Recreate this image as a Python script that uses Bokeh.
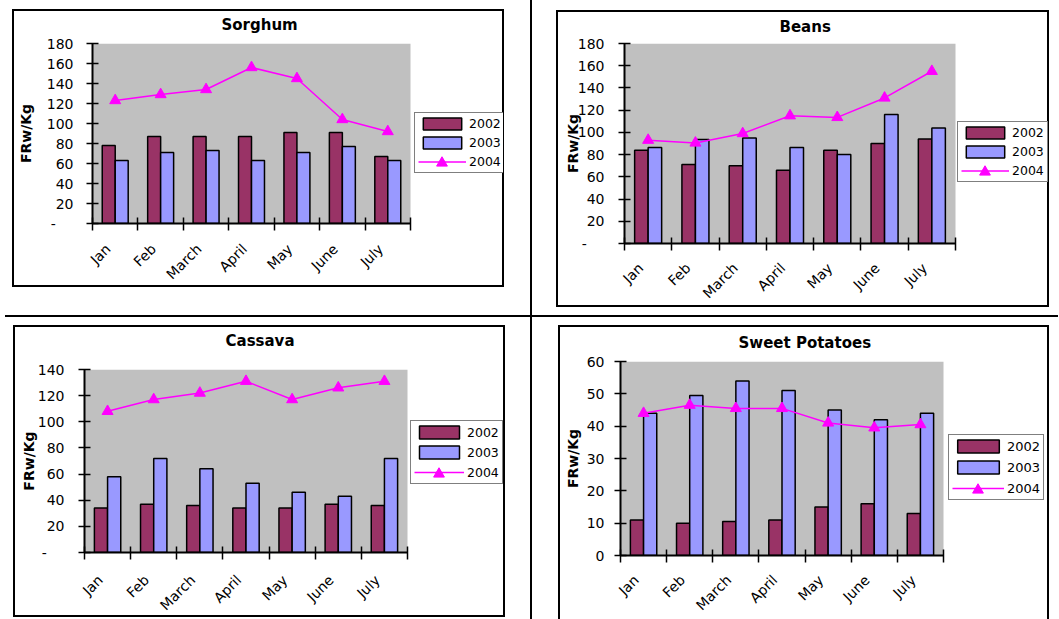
import numpy as np
from bokeh.plotting import figure
from bokeh.models import (ColumnDataSource, FixedTicker, Legend, LegendItem, Range1d, Div,
                          BoxAnnotation)
from bokeh.layouts import row, column
from bokeh.embed import file_html
from bokeh.resources import INLINE

# ---------------- data ----------------
months = ["Jan", "Feb", "March", "April", "May", "June", "July"]
series_names = ["2002", "2003", "2004"]

sorghum_2002 = [78, 87, 87, 87, 91, 91, 67]
sorghum_2003 = [63, 71, 73, 63, 71, 77, 63]
sorghum_2004 = [123, 129, 134, 156, 145, 104, 92]

beans_2002 = [84, 71, 70, 66, 84, 90, 94]
beans_2003 = [86.5, 93.5, 95, 86.5, 80, 116, 104]
beans_2004 = [93, 90.5, 99, 115, 113.5, 131, 155]

cassava_2002 = [34, 37, 36, 34, 34, 37, 36]
cassava_2003 = [58, 72, 64, 53, 46, 43, 72]
cassava_2004 = [108, 117, 122, 131, 117, 126, 131]

sweet_2002 = [11, 10, 10.5, 11, 15, 16, 13]
sweet_2003 = [44, 49.5, 54, 51, 45, 42, 44]
sweet_2004 = [44, 46.5, 45.5, 45.5, 41, 39.5, 40.5]

y_label = "FRw/Kg"

# ---------------- style ----------------
C2002 = "#993366"
C2003 = "#9999FF"
C2004 = "#FF00FF"
PLOT_BG = "#C0C0C0"
FONT = "DejaVu Sans"
BAR_W = 2.0 / 7.0
LAB_SHIFT = 0.15625
NBSP = "\u00a0"
LEG_PAD = 3
MARK_BOX = 27


def box_style(left, w, top, h, bottom=True):
    g = "linear-gradient(#000,#000)"
    layers = [
        f"{g} {left}px {top}px / 2px {h}px no-repeat",
        f"{g} {left + w - 2}px {top}px / 2px {h}px no-repeat",
        f"{g} {left}px {top}px / {w}px 2px no-repeat",
    ]
    if bottom:
        layers.append(f"{g} {left}px {top + h - 2}px / {w}px 2px no-repeat")
    return {"background": ", ".join(layers)}


def make_chart(title, v2002, v2003, v2004, ymax, ystep, W, H, ml, gray_w, mt, mb, margin,
               box_left, box_w, box_top, box_h, leg_loc, leg_font, leg_lh, leg_sp, leg_gw,
               title_offset, title_standoff, ytick_standoff, ylab_standoff, xlab_standoff,
               zero_dash, bottom_border=True):
    n = len(months)
    mr = 1
    frame_w = W - ml - mr
    x_end = n * frame_w / gray_w          # frame also hosts the legend, right of the plot area
    xs = np.arange(n) + 0.5
    src = ColumnDataSource(dict(xa=xs - BAR_W / 2, xb=xs + BAR_W / 2, xc=xs,
                                a=v2002, b=v2003, c=v2004))
    p = figure(width=W, height=H, x_range=Range1d(0, x_end), y_range=Range1d(0, ymax),
               output_backend="svg", toolbar_location=None, title=title,
               min_border_left=ml, min_border_right=mr, min_border_top=mt, min_border_bottom=mb)
    p.margin = margin
    p.styles = box_style(box_left, box_w, box_top, box_h, bottom_border)
    p.border_fill_color = None
    p.background_fill_color = None
    p.outline_line_color = None
    p.xgrid.grid_line_color = None
    p.ygrid.grid_line_color = None

    # grey plot area (only over the category span)
    p.add_layout(BoxAnnotation(left=0, right=n, bottom=0, top=ymax, fill_color=PLOT_BG,
                               fill_alpha=1.0, line_color=None, level="underlay"))

    ra = p.vbar(x="xa", top="a", width=BAR_W, bottom=0, source=src,
                fill_color=C2002, line_color="black", line_width=1.5)
    rb = p.vbar(x="xb", top="b", width=BAR_W, bottom=0, source=src,
                fill_color=C2003, line_color="black", line_width=1.5)
    rl = p.line(x="xc", y="c", source=src, line_color=C2004, line_width=1.5)
    rs = p.scatter(x="xc", y="c", source=src, marker="triangle", size=11,
                   fill_color=C2004, line_color=C2004)

    # title
    p.title.text_font = FONT
    p.title.text_font_style = "bold"
    p.title.text_font_size = "15px"
    p.title.text_color = "black"
    p.title.align = "left"
    p.title.offset = title_offset
    p.title.standoff = title_standoff

    # x axis
    xa = p.xaxis[0]
    label_pos = [float(x - LAB_SHIFT) for x in xs]
    xa.ticker = FixedTicker(ticks=label_pos, minor_ticks=list(range(n + 1)))
    xa.bounds = (0, n)
    xa.major_label_overrides = {lp: m for lp, m in zip(label_pos, months)}
    xa.major_label_orientation = np.pi / 4
    xa.major_label_text_font = FONT
    xa.major_label_text_font_size = "14px"
    xa.major_label_text_color = "black"
    xa.major_label_standoff = xlab_standoff
    xa.major_tick_in = 0
    xa.major_tick_out = 0
    xa.minor_tick_in = 6
    xa.minor_tick_out = 7
    xa.minor_tick_line_color = "black"
    xa.minor_tick_line_width = 1.5
    xa.axis_line_color = "black"
    xa.axis_line_width = 2

    # y axis
    ya = p.yaxis[0]
    ya.ticker = FixedTicker(ticks=list(range(0, ymax + 1, ystep)), minor_ticks=[])
    if zero_dash:
        ya.major_label_overrides = {0: "-" + NBSP * 4}
    ya.major_label_text_font = FONT
    ya.major_label_text_font_size = "14px"
    ya.major_label_text_color = "black"
    ya.major_label_standoff = ytick_standoff
    ya.major_tick_in = 6
    ya.major_tick_out = 6
    ya.major_tick_line_color = "black"
    ya.major_tick_line_width = 1.5
    ya.minor_tick_line_color = None
    ya.axis_line_color = "black"
    ya.axis_line_width = 2
    ya.axis_label = y_label
    ya.axis_label_text_font = FONT
    ya.axis_label_text_font_style = "bold"
    ya.axis_label_text_font_size = "14px"
    ya.axis_label_text_color = "black"
    ya.axis_label_standoff = ylab_standoff

    # main legend box
    legend = Legend(items=[
        LegendItem(label=series_names[0], renderers=[ra]),
        LegendItem(label=series_names[1], renderers=[rb]),
        LegendItem(label=series_names[2], renderers=[rl]),
    ], location=leg_loc)
    legend.border_line_color = "black"
    legend.border_line_width = 1.5
    legend.background_fill_color = "white"
    legend.background_fill_alpha = 1.0
    legend.label_text_font = FONT
    legend.label_text_font_size = leg_font
    legend.label_text_color = "black"
    legend.label_height = leg_lh
    legend.glyph_height = leg_lh
    legend.glyph_width = leg_gw
    legend.label_standoff = 3
    legend.spacing = leg_sp
    legend.padding = LEG_PAD
    legend.margin = 0
    p.add_layout(legend, "center")

    # larger triangle marker for the 2004 legend entry (overlaid on the line swatch)
    cx = leg_loc[0] + LEG_PAD + leg_gw / 2.0
    cy = leg_loc[1] + LEG_PAD + leg_lh / 2.0
    mk = Legend(items=[LegendItem(label=" ", renderers=[rs])],
                location=(cx - MARK_BOX / 2.0, cy - MARK_BOX / 2.0))
    mk.border_line_color = None
    mk.background_fill_alpha = 0.0
    mk.glyph_width = MARK_BOX
    mk.glyph_height = MARK_BOX
    mk.label_height = MARK_BOX
    mk.label_width = 0
    mk.label_standoff = 0
    mk.label_text_font_size = "1px"
    mk.padding = 0
    mk.spacing = 0
    mk.margin = 0
    p.add_layout(mk, "center")
    return p


# left column (frames aligned by the layout): min_border_left = 80
p1 = make_chart("Sorghum", sorghum_2002, sorghum_2003, sorghum_2004, 180, 20,
                W=492, H=294, ml=80, gray_w=318, mt=42, mb=72, margin=(1, 0, 20, 12),
                box_left=0, box_w=492, box_top=8, box_h=278,
                leg_loc=(322, 50), leg_font="12.5px", leg_lh=15, leg_sp=4, leg_gw=48,
                title_offset=129, title_standoff=20,
                ytick_standoff=13, ylab_standoff=10, xlab_standoff=16, zero_dash=True)

p3 = make_chart("Cassava", cassava_2002, cassava_2003, cassava_2004, 140, 20,
                W=501, H=318, ml=80, gray_w=323, mt=62, mb=73, margin=(-10, 0, 0, 4),
                box_left=9, box_w=492, box_top=18, box_h=292,
                leg_loc=(326, 68), leg_font="12.5px", leg_lh=16, leg_sp=4, leg_gw=50,
                title_offset=141, title_standoff=40,
                ytick_standoff=14, ylab_standoff=-2, xlab_standoff=18, zero_dash=True)

# right column: min_border_left = 68
p2 = make_chart("Beans", beans_2002, beans_2003, beans_2004, 180, 20,
                W=493, H=309, ml=68, gray_w=331, mt=38, mb=71, margin=(5, 0, 1, 24),
                box_left=0, box_w=493, box_top=5, box_h=297,
                leg_loc=(333, 61), leg_font="12.5px", leg_lh=15, leg_sp=4, leg_gw=48,
                title_offset=155, title_standoff=16,
                ytick_standoff=14, ylab_standoff=-6, xlab_standoff=15, zero_dash=True)

p4 = make_chart("Sweet Potatoes", sweet_2002, sweet_2003, sweet_2004, 60, 10,
                W=497, H=305, ml=68, gray_w=323, mt=41, mb=70, margin=(3, 0, 0, 20),
                box_left=6, box_w=491, box_top=5, box_h=305,
                leg_loc=(328, 55), leg_font="13px", leg_lh=16, leg_sp=5, leg_gw=52,
                title_offset=118, title_standoff=19,
                ytick_standoff=10, ylab_standoff=3, xlab_standoff=15, zero_dash=False,
                bottom_border=False)


def rule(w, h, margin=0):
    return Div(text="", width=w, height=h, margin=margin,
               styles={"background-color": "#000"})


left_col = column(p1, rule(525, 2, (0, 0, 0, 5)), p3, spacing=0)
right_col = column(p2, rule(526, 2), p4, spacing=0)
layout = row(left_col, rule(2, 619), right_col, spacing=0, height=619,
             styles={"overflow": "hidden"})

open("out.html", "w").write(file_html(layout, INLINE))
